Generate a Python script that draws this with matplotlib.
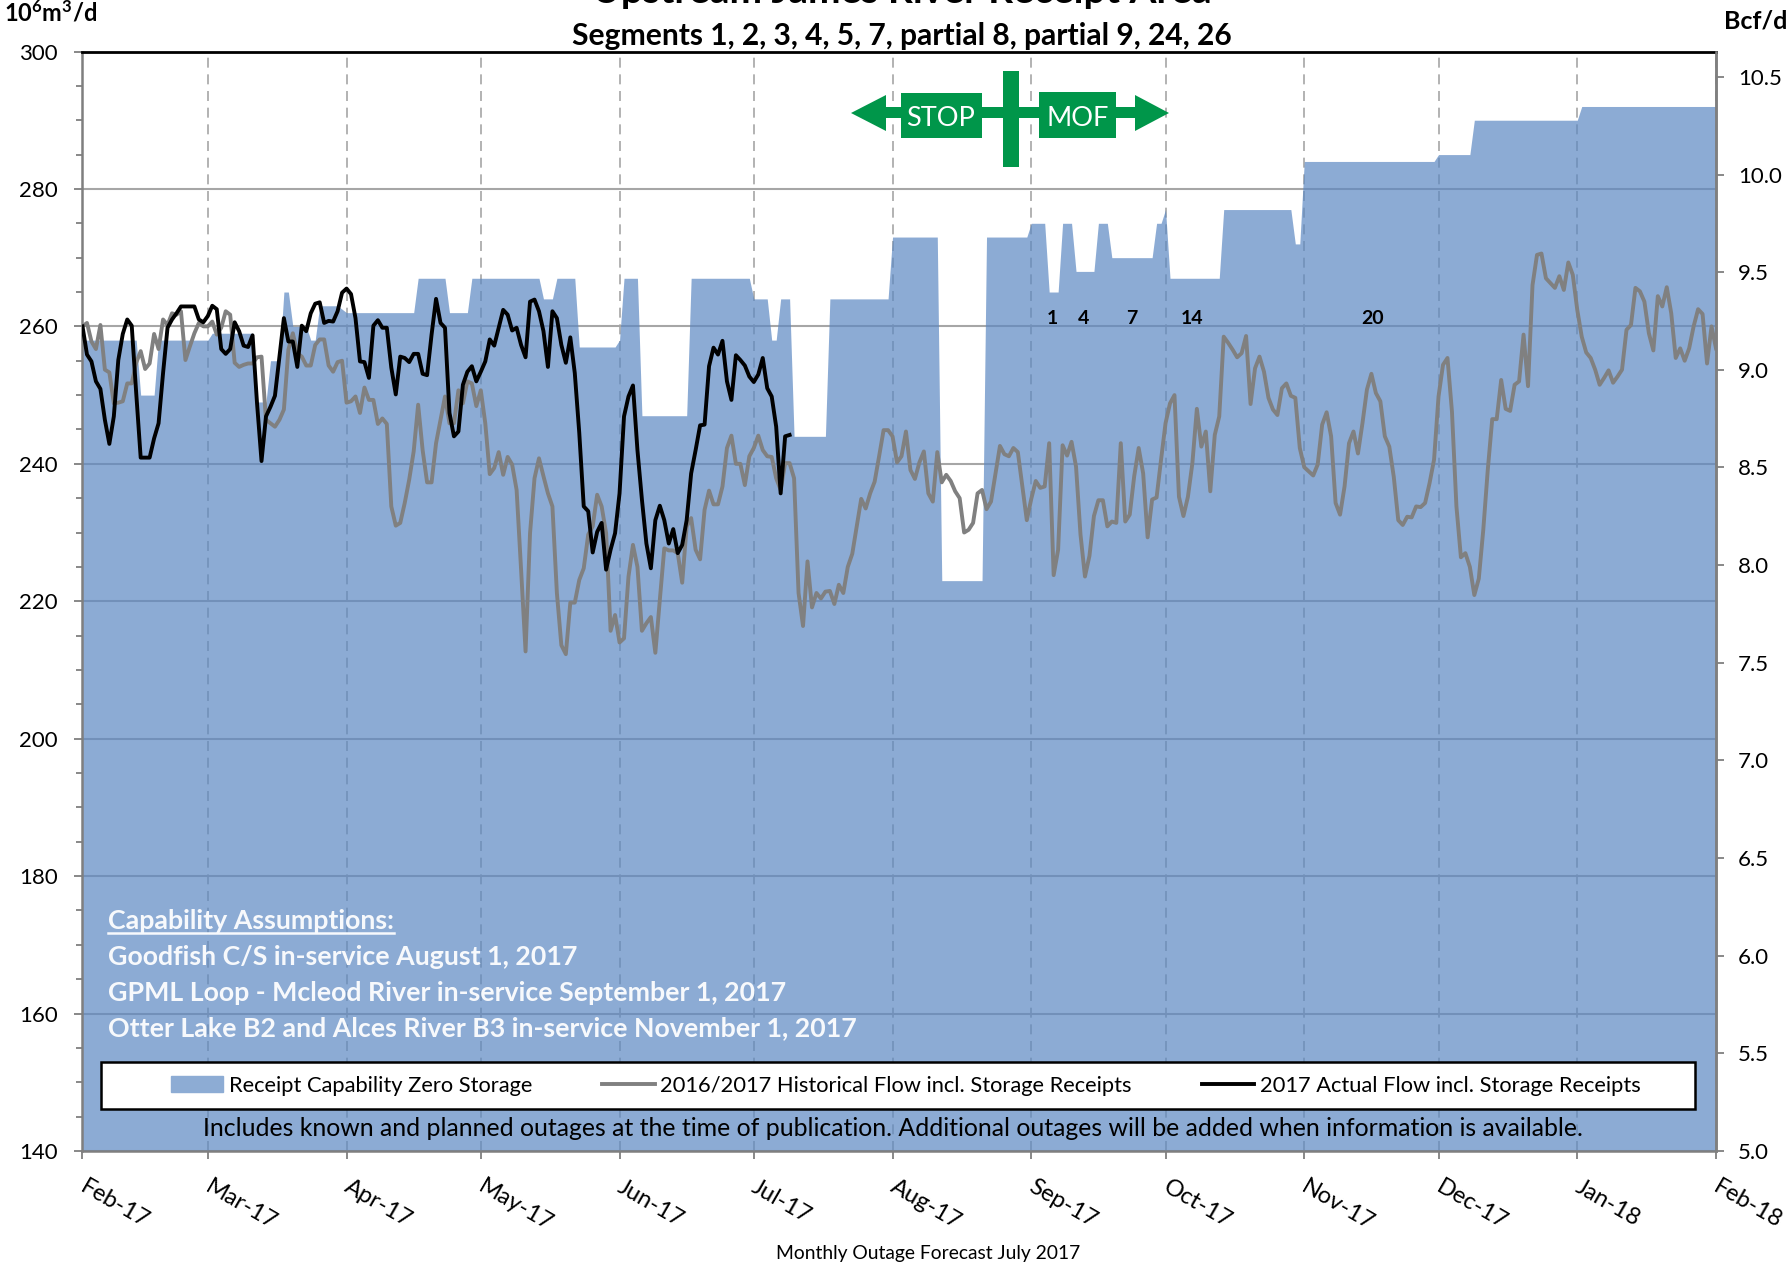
import numpy as np
import matplotlib
matplotlib.use('Agg')
import matplotlib.pyplot as plt
from matplotlib.patches import Rectangle, Polygon
from matplotlib.lines import Line2D

plt.rcParams['font.family'] = ['Lato', 'DejaVu Sans']
plt.rcParams['mathtext.fontset'] = 'custom'
plt.rcParams['mathtext.bf'] = 'Lato:bold'
plt.rcParams['mathtext.rm'] = 'Lato'

W, H = 1790, 1270

# days counted from Feb 1 2017
month_days = [0, 28, 59, 89, 120, 150, 181, 212, 242, 273, 303, 334, 365]
month_labels = ['Feb-17', 'Mar-17', 'Apr-17', 'May-17', 'Jun-17', 'Jul-17', 'Aug-17',
                'Sep-17', 'Oct-17', 'Nov-17', 'Dec-17', 'Jan-18', 'Feb-18']

cap_days = [0, 12, 13, 16, 17, 28, 29, 38, 39, 41, 42, 44, 45, 46, 47, 50, 51, 52, 53, 57,
            59, 74, 75, 81, 82, 86, 87, 102, 103, 105, 106, 110, 111, 119, 120, 121, 124, 125,
            135, 136, 149, 150, 153, 154, 155, 156, 158, 159, 166, 167, 180, 181, 191, 192,
            201, 202, 211, 212, 215, 216, 218, 219, 221, 222, 226, 227, 229, 230, 239, 240,
            241, 242, 243, 254, 255, 270, 271, 272, 273, 302, 303, 310, 311, 334, 335, 365]
cap_vals = [258, 258, 250, 250, 258, 258, 259, 259, 249, 249, 255, 255, 265, 265, 260, 260, 258, 258, 263, 263,
            262, 262, 267, 267, 262, 262, 267, 267, 264, 264, 267, 267, 257, 257, 258, 267, 267, 247,
            247, 267, 267, 264, 264, 258, 258, 264, 264, 244, 244, 264, 264, 273, 273, 223,
            223, 273, 273, 275, 275, 265, 265, 275, 275, 268, 268, 275, 275, 270, 270, 275,
            275, 277, 267, 267, 277, 277, 272, 272, 284, 284, 285, 285, 290, 290, 292, 292]

hist = [260.0, 260.5, 257.8, 256.7, 260.2, 253.7, 253.3, 248.8, 248.9, 249.1,
        251.7, 251.7, 254.7, 256.4, 253.8, 254.6, 258.9, 256.7, 261.0, 260.2,
        261.9, 261.7, 262.2, 255.1, 257.1, 259.0, 260.5, 260.0, 260.0, 260.7,
        258.8, 259.8, 262.2, 261.7, 254.7, 254.1, 254.4, 254.6, 254.6, 255.5,
        255.6, 246.4, 245.9, 245.4, 246.4, 247.9, 256.6, 259.0, 256.1, 255.6,
        254.3, 254.3, 257.3, 258.1, 258.1, 254.3, 253.4, 254.8, 255.0, 248.9,
        249.1, 249.8, 247.4, 251.1, 249.3, 249.3, 245.8, 246.6, 245.8, 233.8,
        231.0, 231.4, 234.3, 237.7, 241.8, 248.6, 242.0, 237.3, 237.3, 243.0,
        246.4, 249.8, 245.9, 245.9, 250.7, 248.8, 252.0, 251.7, 248.4, 250.7,
        245.9, 238.5, 239.4, 241.7, 238.4, 241.0, 239.9, 236.2, 224.6, 212.7,
        229.9, 237.9, 240.8, 238.2, 235.7, 233.8, 221.2, 213.6, 212.3, 219.8,
        219.8, 223.1, 224.8, 229.7, 230.9, 235.5, 233.8, 229.9, 215.7, 218.0,
        214.0, 214.6, 223.6, 228.2, 225.0, 215.7, 216.8, 217.7, 212.5, 220.2,
        227.7, 227.4, 227.4, 227.0, 222.7, 230.9, 232.1, 227.5, 226.1, 233.3,
        236.1, 234.1, 234.1, 236.7, 242.3, 244.1, 240.0, 240.0, 236.9, 241.1,
        242.3, 244.1, 242.0, 241.1, 241.0, 237.9, 236.2, 240.1, 240.1, 237.9,
        221.2, 216.4, 225.8, 219.1, 221.2, 220.4, 221.4, 221.5, 219.6, 222.4,
        221.2, 225.0, 226.9, 230.9, 234.9, 233.5, 235.7, 237.4, 241.1, 244.9,
        244.9, 244.0, 240.2, 241.1, 244.7, 239.1, 237.8, 240.2, 241.8, 235.7,
        234.5, 241.7, 237.3, 238.4, 237.5, 236.0, 235.0, 230.0, 230.4, 231.4,
        235.7, 236.2, 233.4, 234.5, 238.6, 242.6, 241.4, 241.1, 242.3, 241.7,
        236.7, 231.8, 234.9, 237.5, 236.5, 236.7, 243.0, 223.8, 227.5, 242.7,
        241.2, 243.2, 239.6, 229.7, 223.6, 226.6, 232.4, 234.7, 234.7, 230.9,
        231.6, 231.4, 243.0, 231.6, 232.6, 238.2, 242.3, 238.6, 229.3, 234.8,
        235.1, 240.6, 245.9, 248.8, 250.0, 235.2, 232.4, 235.2, 240.1, 248.0,
        242.5, 244.7, 236.0, 244.2, 246.9, 258.5, 257.6, 256.6, 255.5, 256.1,
        258.6, 248.7, 253.9, 255.6, 253.4, 249.6, 247.9, 247.1, 251.0, 251.7,
        249.9, 249.6, 242.3, 239.5, 238.9, 238.3, 239.9, 245.7, 247.5, 244.0,
        234.3, 232.6, 236.7, 243.0, 244.7, 241.5, 245.9, 250.8, 253.1, 250.3,
        249.1, 244.0, 242.5, 238.1, 231.8, 231.1, 232.3, 232.2, 233.8, 233.7,
        234.3, 237.2, 240.6, 249.8, 254.4, 255.4, 247.6, 233.8, 226.4, 227.0,
        225.0, 220.9, 223.3, 230.4, 239.1, 246.5, 246.5, 252.2, 248.0, 247.7,
        251.5, 252.0, 258.8, 251.3, 266.0, 270.4, 270.6, 267.0, 266.3, 265.6,
        267.3, 265.3, 269.3, 267.5, 262.4, 258.5, 256.2, 255.4, 253.7, 251.5,
        252.5, 253.6, 251.8, 252.7, 253.7, 259.5, 260.2, 265.6, 265.1, 263.6,
        259.0, 256.5, 264.4, 262.9, 265.7, 261.9, 255.4, 256.8, 255.0, 256.8,
        260.0, 262.5, 261.8, 254.6, 260.0, 256.8]

actual = [260.0, 255.9, 254.9, 252.0, 250.9, 246.4, 242.9, 246.9, 255.1, 258.9,
          261.0, 260.1, 250.3, 240.9, 240.9, 240.9, 243.7, 245.9, 253.2, 259.8,
          261.0, 261.9, 262.9, 262.9, 262.9, 262.9, 261.0, 260.6, 261.5, 263.0,
          262.5, 256.7, 256.0, 256.7, 260.6, 259.3, 257.2, 257.0, 258.7, 248.8,
          240.4, 246.9, 248.3, 249.9, 255.6, 261.2, 257.8, 257.8, 254.1, 260.1,
          259.3, 261.9, 263.3, 263.5, 260.5, 260.8, 260.7, 262.2, 264.9, 265.5,
          264.7, 261.2, 254.9, 254.8, 252.5, 260.1, 260.9, 259.8, 259.8, 254.0,
          250.1, 255.6, 255.4, 254.8, 256.0, 256.0, 253.1, 252.9, 258.8, 264.0,
          260.5, 259.8, 247.4, 244.0, 244.7, 251.5, 253.4, 254.2, 252.0, 253.4,
          254.9, 258.1, 257.2, 259.8, 262.4, 261.7, 259.4, 259.8, 257.3, 255.5,
          263.6, 263.9, 262.2, 259.3, 254.1, 262.2, 261.2, 257.3, 254.7, 258.4,
          253.2, 244.5, 233.8, 233.1, 227.1, 230.1, 231.4, 224.6, 227.5, 229.9,
          235.7, 246.9, 249.8, 251.4, 242.0, 234.8, 228.4, 224.8, 231.8, 233.9,
          231.8, 228.4, 230.5, 227.0, 228.2, 231.8, 238.6, 242.0, 245.6, 245.7,
          254.2, 256.9, 255.9, 257.9, 252.0, 249.3, 255.8, 255.1, 254.3, 252.7,
          251.9, 253.0, 255.4, 251.0, 249.8, 245.4, 235.7, 244.0, 244.2]

seg_days = [216.8, 223.6, 234.4, 248, 288.2]
seg_labels = ['1', '4', '7', '14', '20']

FILL = '#5C88C2'
GREEN = '#00964A'
AXC = '#7F7F7F'
NOTE = '#F7F9FC'


def fx(px):
    return px / W


def fy(py):
    return 1 - py / H


fig = plt.figure(figsize=(W / 100, H / 100), dpi=100)
ax = fig.add_axes([fx(82.5), fy(1151), (1716 - 82.5) / W, (1151 - 51.5) / H])

ax.fill_between(cap_days, 140, cap_vals, color=FILL, alpha=0.7, lw=0, zorder=2)
ax.plot(np.arange(len(hist)), hist, color='#808080', lw=2.8, zorder=3, solid_joinstyle='round')
ax.plot(np.arange(len(actual)), actual, color='black', lw=2.8, zorder=4, solid_joinstyle='round')

ax.set_xlim(0, 365)
ax.set_ylim(140, 300)
ax.set_xticks(month_days)
ax.set_xticklabels([])
for d, lab in zip(month_days, month_labels):
    ax.annotate(lab, (d, 0), xycoords=ax.get_xaxis_transform(), xytext=(3.2, -18), textcoords='offset points',
                rotation=-30, ha='left', va='top', rotation_mode='anchor', fontsize=17, annotation_clip=False)
ax.set_yticks(np.arange(140, 301, 20))
ax.set_yticks(np.arange(140, 301, 5), minor=True)
ax.tick_params(axis='y', which='major', length=6, width=1.3, color=AXC, labelsize=16, pad=12)
ax.tick_params(axis='y', which='minor', length=4, width=1.3, color=AXC)
ax.tick_params(axis='x', which='major', length=6, width=1.3, color=AXC)
ax.grid(axis='y', color='#A6A6A6', lw=1.5, zorder=1)
ax.grid(axis='x', color='#A6A6A6', lw=1.2, ls=(0, (6, 4)), zorder=1)
ax.set_axisbelow(True)
for s in ['left', 'bottom', 'right']:
    ax.spines[s].set_color(AXC)
    ax.spines[s].set_linewidth(1.8)
ax.spines['top'].set_color('black')
ax.spines['top'].set_linewidth(2)

ax2 = ax.twinx()
ax2.set_ylim(5.0, 10.63)
ax2.set_yticks(np.arange(5.0, 10.6, 0.5))
ax2.set_yticklabels(['%.1f' % v for v in np.arange(5.0, 10.6, 0.5)])
ax2.tick_params(axis='y', length=6, width=1.3, color=AXC, labelsize=16, pad=10)
for s in ['left', 'top', 'bottom']:
    ax2.spines[s].set_visible(False)
ax2.spines['right'].set_color(AXC)
ax2.spines['right'].set_linewidth(1.8)

for d, lab in zip(seg_days, seg_labels):
    ax2.annotate(lab, (d, 0), xycoords=ax.get_xaxis_transform(), xytext=(d, 260.3), textcoords=ax.transData,
                 fontsize=14, fontweight='bold', ha='center', va='baseline', zorder=6)

# titles and axis units
fig.text(fx(902), fy(3), 'Upstream James River Receipt Area', fontsize=28, fontweight='bold', ha='center', va='baseline')
fig.text(fx(902), fy(36), 'Segments 1, 2, 3, 4, 5, 7, partial 8, partial 9, 24, 26', fontsize=21.6, fontweight='bold', ha='center', va='center')
fig.text(fx(4), fy(13), r'$\mathbf{10^{6}m^{3}/d}$', fontsize=17, ha='left', va='center')
fig.text(fx(1756), fy(21), 'Bcf/d', fontsize=18, fontweight='bold', ha='center', va='center')
fig.text(fx(928), fy(1253), 'Monthly Outage Forecast July 2017', fontsize=13.9, ha='center', va='center')

# capability notes
notes = ['Capability Assumptions:', 'Goodfish C/S in-service August 1, 2017',
         'GPML Loop - Mcleod River in-service September 1, 2017',
         'Otter Lake B2 and Alces River B3 in-service November 1, 2017']
for note, py in zip(notes, [921, 957, 993, 1028]):
    fig.text(fx(108), fy(py), note, color=NOTE, fontsize=19.3, fontweight='bold', ha='left', va='center')
fig.add_artist(Line2D([fx(108), fx(394)], [fy(933), fy(933)], color=NOTE, lw=1.8))

fig.text(fx(893), fy(1128), 'Includes known and planned outages at the time of publication. Additional outages will be added when information is available.',
         fontsize=17.9, ha='center', va='center')

# legend box
fig.add_artist(Rectangle((fx(100.5), fy(1109)), (1695 - 100.5) / W, 47 / H, transform=fig.transFigure,
                         facecolor='white', edgecolor='black', lw=1.8, zorder=4))
handles = [Rectangle((0, 0), 1, 1, color='#8DACD4'),
           Line2D([], [], color='#808080', lw=2.8),
           Line2D([], [], color='black', lw=2.8)]
leg = fig.legend(handles, ['Receipt Capability Zero Storage', '2016/2017 Historical Flow incl. Storage Receipts',
                           '2017 Actual Flow incl. Storage Receipts'],
                 loc='center left', bbox_to_anchor=(fx(171), fy(1085.5)), ncol=3, frameon=False,
                 fontsize=15.75, handlelength=2.4, handleheight=0.7, handletextpad=0.25, columnspacing=3.2,
                 borderaxespad=0, borderpad=0)
leg.set_zorder(5)

# STOP / MOF sign
sign = [(851, 113), (886, 95), (886, 107), (1135, 107), (1135, 95), (1169, 113), (1135, 131), (1135, 118), (886, 118), (886, 131)]
fig.add_artist(Polygon([(fx(a), fy(b)) for a, b in sign], closed=True, transform=fig.transFigure, color=GREEN, lw=0))
for x0, x1, y0, y1 in [(901, 982, 93, 138), (1003, 1019, 71, 167), (1039, 1116, 92, 138)]:
    fig.add_artist(Rectangle((fx(x0), fy(y1)), (x1 - x0) / W, (y1 - y0) / H, transform=fig.transFigure, color=GREEN, lw=0))
fig.text(fx(941), fy(118), 'STOP', color='white', fontsize=19.5, ha='center', va='center', zorder=6)
fig.text(fx(1078), fy(118), 'MOF', color='white', fontsize=19.5, ha='center', va='center', zorder=6)

plt.savefig('out.png', dpi=100)
